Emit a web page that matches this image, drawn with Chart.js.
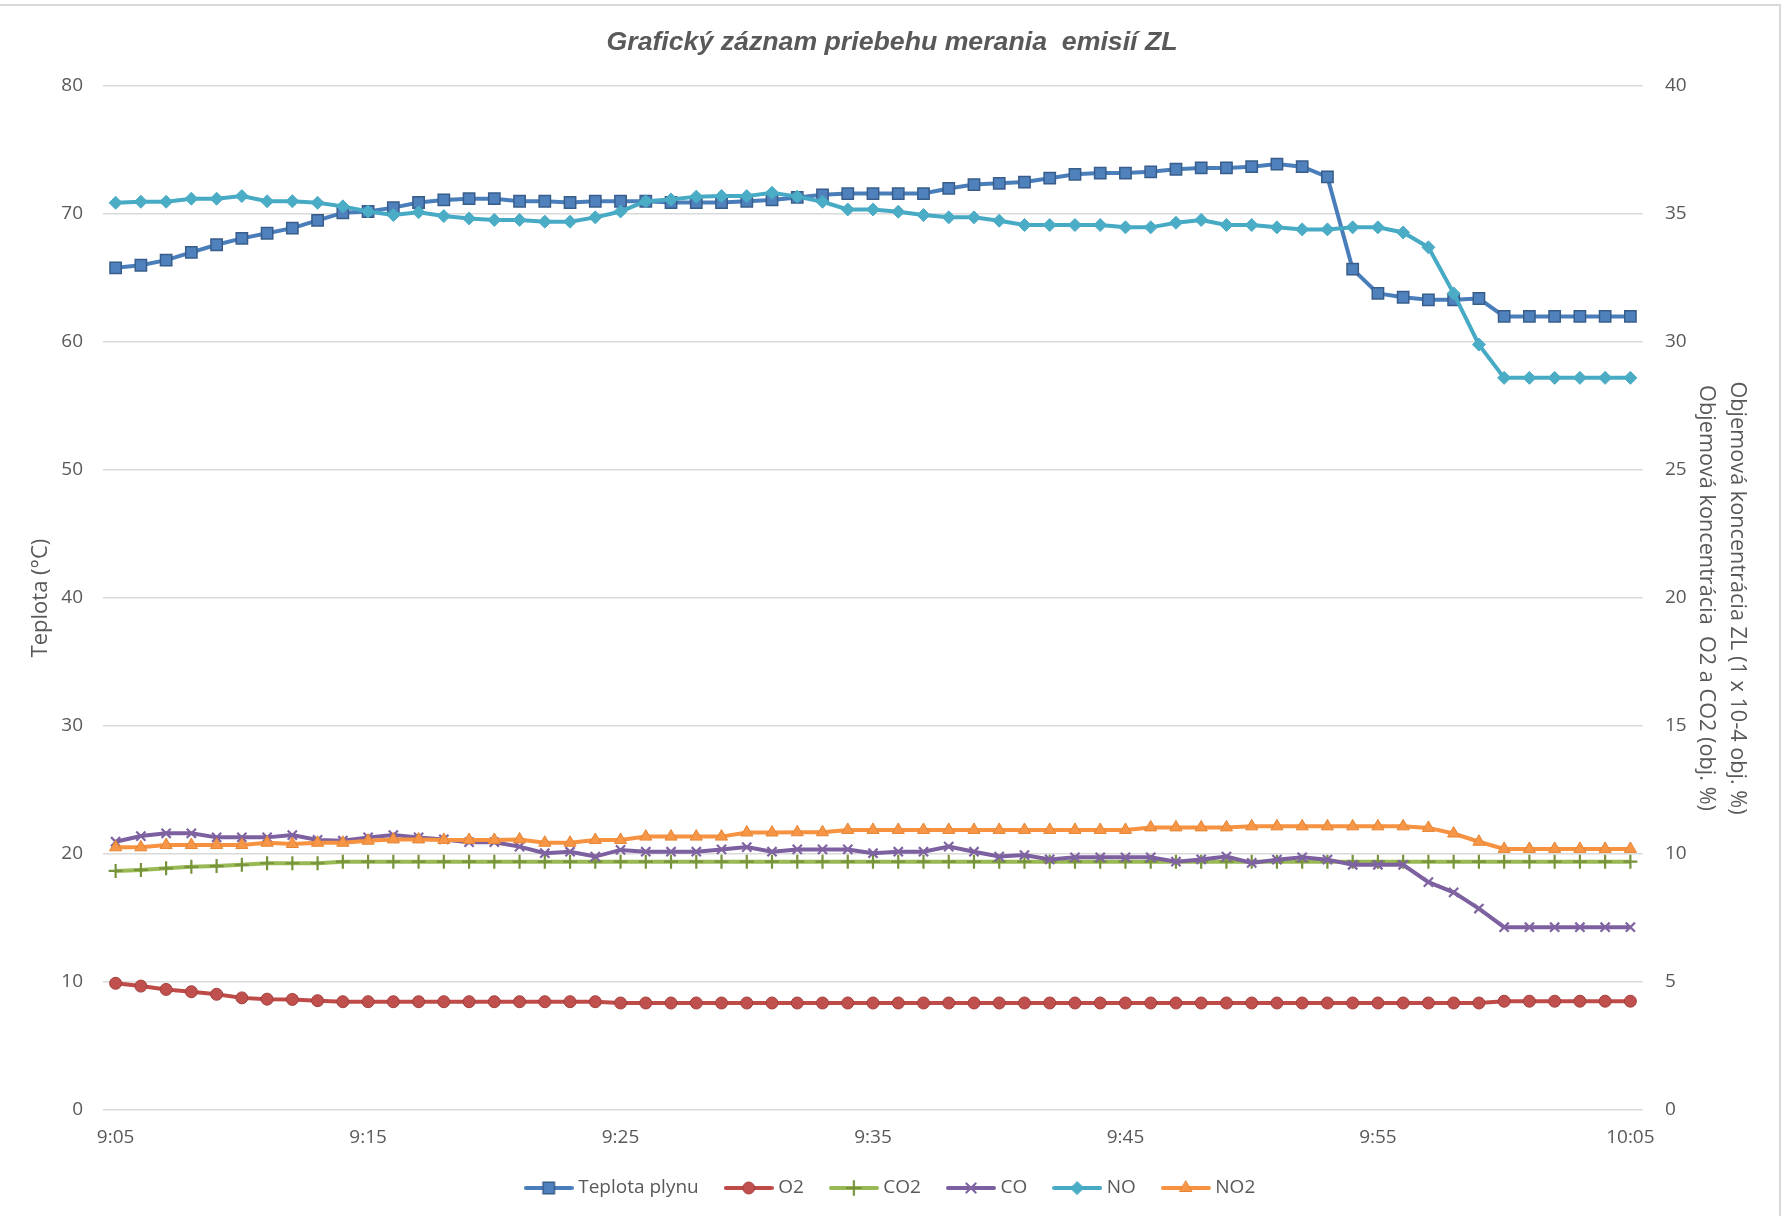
<!DOCTYPE html>
<html>
<head>
<meta charset="utf-8">
<script src="https://cdn.jsdelivr.net/npm/chart.js@4/dist/chart.umd.min.js"></script>
<style>
html,body{margin:0;padding:0;background:#fff;}
#wrap{width:1784px;height:1216px;position:relative;}
canvas{display:block;}
</style>
</head>
<body>
<div id="wrap"><canvas id="c" width="1784" height="1216"></canvas></div>
<script>
// ---- data ----
const timeLabels = ['9:05','9:06','9:07','9:08','9:09','9:10','9:11','9:12','9:13','9:14',
  '9:15','9:16','9:17','9:18','9:19','9:20','9:21','9:22','9:23','9:24',
  '9:25','9:26','9:27','9:28','9:29','9:30','9:31','9:32','9:33','9:34',
  '9:35','9:36','9:37','9:38','9:39','9:40','9:41','9:42','9:43','9:44',
  '9:45','9:46','9:47','9:48','9:49','9:50','9:51','9:52','9:53','9:54',
  '9:55','9:56','9:57','9:58','9:59','10:00','10:01','10:02','10:03','10:04',
  '10:05'];

const teplotaPlynu = [65.8,66.0,66.4,67.0,67.6,68.1,68.5,68.9,69.5,70.1,
  70.2,70.5,70.9,71.1,71.2,71.2,71.0,71.0,70.9,71.0,
  71.0,71.0,70.9,70.9,70.9,71.0,71.1,71.3,71.5,71.6,
  71.6,71.6,71.6,72.0,72.3,72.4,72.5,72.8,73.1,73.2,
  73.2,73.3,73.5,73.6,73.6,73.7,73.9,73.7,72.9,65.7,
  63.8,63.5,63.3,63.3,63.4,62.0,62.0,62.0,62.0,62.0,
  62.0];

const o2 = [4.95,4.84,4.71,4.62,4.52,4.38,4.33,4.32,4.27,4.23,
  4.23,4.23,4.23,4.23,4.23,4.23,4.23,4.23,4.23,4.23,
  4.18,4.18,4.18,4.18,4.18,4.18,4.18,4.18,4.18,4.18,
  4.18,4.18,4.18,4.18,4.18,4.18,4.18,4.18,4.18,4.18,
  4.18,4.18,4.18,4.18,4.18,4.18,4.18,4.18,4.18,4.18,
  4.18,4.18,4.18,4.18,4.18,4.25,4.25,4.25,4.25,4.25,
  4.25];

const co2 = [9.34,9.38,9.44,9.50,9.53,9.58,9.64,9.64,9.64,9.70,
  9.70,9.70,9.70,9.70,9.70,9.70,9.70,9.70,9.70,9.70,
  9.70,9.70,9.70,9.70,9.70,9.70,9.70,9.70,9.70,9.70,
  9.70,9.70,9.70,9.70,9.70,9.70,9.70,9.70,9.70,9.70,
  9.70,9.70,9.70,9.70,9.70,9.70,9.70,9.70,9.70,9.70,
  9.70,9.70,9.70,9.70,9.70,9.70,9.70,9.70,9.70,9.70,
  9.70];

const co = [10.48,10.70,10.81,10.81,10.65,10.65,10.65,10.74,10.55,10.52,
  10.65,10.74,10.65,10.57,10.46,10.46,10.29,10.03,10.09,9.90,
  10.16,10.09,10.09,10.09,10.18,10.27,10.09,10.18,10.18,10.18,
  10.03,10.09,10.09,10.29,10.09,9.90,9.96,9.79,9.87,9.87,
  9.87,9.87,9.70,9.79,9.90,9.65,9.78,9.87,9.78,9.58,
  9.58,9.58,8.90,8.50,7.87,7.14,7.14,7.14,7.14,7.14,
  7.14];

const no = [35.44,35.48,35.48,35.60,35.60,35.70,35.50,35.50,35.44,35.30,
  35.10,34.96,35.07,34.92,34.83,34.77,34.77,34.70,34.70,34.87,
  35.10,35.50,35.57,35.68,35.70,35.70,35.83,35.68,35.48,35.18,
  35.18,35.09,34.96,34.87,34.87,34.74,34.57,34.57,34.57,34.57,
  34.48,34.48,34.66,34.77,34.57,34.57,34.48,34.40,34.40,34.48,
  34.48,34.28,33.70,31.90,29.90,28.60,28.60,28.60,28.60,28.60,
  28.60];

const no2 = [10.26,10.26,10.35,10.35,10.35,10.35,10.44,10.39,10.44,10.44,
  10.52,10.57,10.57,10.55,10.55,10.55,10.57,10.44,10.44,10.55,
  10.55,10.68,10.68,10.68,10.68,10.84,10.84,10.85,10.85,10.94,
  10.94,10.94,10.94,10.94,10.94,10.94,10.94,10.94,10.94,10.94,
  10.94,11.04,11.04,11.04,11.04,11.08,11.08,11.08,11.08,11.08,
  11.08,11.08,11.02,10.80,10.48,10.20,10.20,10.20,10.20,10.20,
  10.20];

const seriesNames = ['Teplota plynu','O2','CO2','CO','NO','NO2'];
const chartTitle = 'Grafický záznam priebehu merania  emisií ZL';
const leftAxisTitle = 'Teplota (°C)';
const rightAxisTitle = ['Objemová koncentrácia ZL (1 x 10-4 obj. %)', 'Objemová koncentrácia  O2 a CO2 (obj. %)'];

// ---- styles ----
const styles = [
  {line:'#4A7EBB', fill:'#4F81BD', border:'#385D8A', point:'rect', r:8, bw:1.5},
  {line:'#BE4B48', fill:'#C0504D', border:'#A3403D', point:'circle', r:6, bw:1},
  {line:'#98B954', fill:'#9BBB59', border:'#77933C', point:'cross', r:7, bw:2.2},
  {line:'#7D60A0', fill:'#8064A2', border:'#8064A2', point:'crossRot', r:6.5, bw:2.2},
  {line:'#46AAC5', fill:'#4BACC6', border:'#4BACC6', point:'rectRot', r:6.5, bw:1},
  {line:'#F69240', fill:'#F79646', border:'#E58534', point:'triangle', r:7, bw:1}
];
const seriesData = [teplotaPlynu, o2, co2, co, no, no2];
const axisIds = ['y','y1','y1','y1','y1','y1'];

Chart.defaults.font.family = "'Open Sans', 'DejaVu Sans', sans-serif";
Chart.defaults.color = '#595959';

function makeLegendIcon(st) {
  const cv = document.createElement('canvas');
  cv.width = 50; cv.height = 20;
  const ctx = cv.getContext('2d');
  ctx.strokeStyle = st.line;
  ctx.lineWidth = 4;
  ctx.lineCap = 'round';
  ctx.beginPath(); ctx.moveTo(2, 10); ctx.lineTo(48, 10); ctx.stroke();
  ctx.fillStyle = st.fill;
  ctx.strokeStyle = st.border;
  ctx.lineWidth = st.bw;
  Chart.helpers.drawPoint(ctx, {pointStyle: st.point, radius: st.r, borderWidth: st.bw, rotation: 0}, 25, 10);
  return cv;
}
const legendIcons = styles.map(makeLegendIcon);

const datasets = seriesNames.map((name, i) => ({
  label: name,
  data: seriesData[i],
  yAxisID: axisIds[i],
  borderColor: styles[i].line,
  backgroundColor: styles[i].fill,
  borderWidth: 4,
  pointStyle: styles[i].point,
  pointRadius: styles[i].r,
  pointHoverRadius: styles[i].r,
  pointBackgroundColor: styles[i].fill,
  pointBorderColor: styles[i].border,
  pointBorderWidth: styles[i].bw,
  tension: 0,
  fill: false,
  order: seriesNames.length - i
}));

const bgPlugin = {
  id: 'bgBorder',
  beforeDraw(chart) {
    const ctx = chart.ctx;
    ctx.save();
    ctx.fillStyle = '#ffffff';
    ctx.fillRect(0, 0, chart.width, chart.height);
    ctx.restore();
  },
  afterDraw(chart) {
    const ctx = chart.ctx;
    ctx.save();
    ctx.strokeStyle = '#d9d9d9';
    ctx.lineWidth = 2;
    ctx.beginPath();
    ctx.moveTo(0, 5); ctx.lineTo(1780, 5); ctx.lineTo(1780, 1216);
    ctx.stroke();
    ctx.restore();
  }
};

new Chart(document.getElementById('c'), {
  type: 'line',
  data: { labels: timeLabels, datasets },
  plugins: [bgPlugin],
  options: {
    responsive: false,
    animation: false,
    devicePixelRatio: 1,
    layout: { padding: { left: 0, right: 0, top: 0, bottom: 8.5 } },
    plugins: {
      tooltip: { enabled: false },
      title: {
        display: true,
        text: chartTitle,
        color: '#595959',
        font: { family: "'Liberation Sans', Arial, sans-serif", size: 26.7, style: 'italic', weight: 'bold', lineHeight: 1.2 },
        padding: { top: 26.3, bottom: 27.7 }
      },
      legend: {
        position: 'bottom',
        labels: {
          usePointStyle: true,
          pointStyleWidth: 40,
          padding: 30,
          color: '#595959',
          font: { size: 19 },
          generateLabels(chart) {
            const items = Chart.defaults.plugins.legend.labels.generateLabels(chart);
            items.sort((a, b) => a.datasetIndex - b.datasetIndex);
            items.forEach(it => { it.pointStyle = legendIcons[it.datasetIndex]; });
            return items;
          }
        }
      }
    },
    scales: {
      x: {
        offset: true,
        grid: { display: false, drawTicks: false },
        border: { display: false },
        ticks: {
          autoSkip: false, maxRotation: 0, minRotation: 0, padding: 16.6,
          color: '#595959', font: { size: 19 },
          callback(v, i) { return i % 10 === 0 ? timeLabels[i] : ''; }
        },
        afterFit(s) { s.height = 38.5; }
      },
      y: {
        position: 'left', min: 0, max: 80,
        ticks: { stepSize: 10, padding: 20, color: '#595959', font: { size: 19 } },
        grid: { color: '#d9d9d9', lineWidth: 1.5, drawTicks: false },
        border: { display: false },
        title: { display: true, text: leftAxisTitle, color: '#595959', font: { size: 22, lineHeight: 1.2 }, padding: { top: 27.8, bottom: 0 } },
        afterFit(s) { s.width = 103; }
      },
      y1: {
        position: 'right', min: 0, max: 40,
        ticks: { stepSize: 5, padding: 22, color: '#595959', font: { size: 19 } },
        grid: { display: false, drawOnChartArea: false, drawTicks: false },
        border: { display: false },
        title: { display: true, text: rightAxisTitle, color: '#595959', font: { size: 21.7, lineHeight: 1.43 }, padding: { top: 31.5, bottom: 0 } },
        afterFit(s) { s.width = 141; }
      }
    }
  }
});
</script>
</body>
</html>
